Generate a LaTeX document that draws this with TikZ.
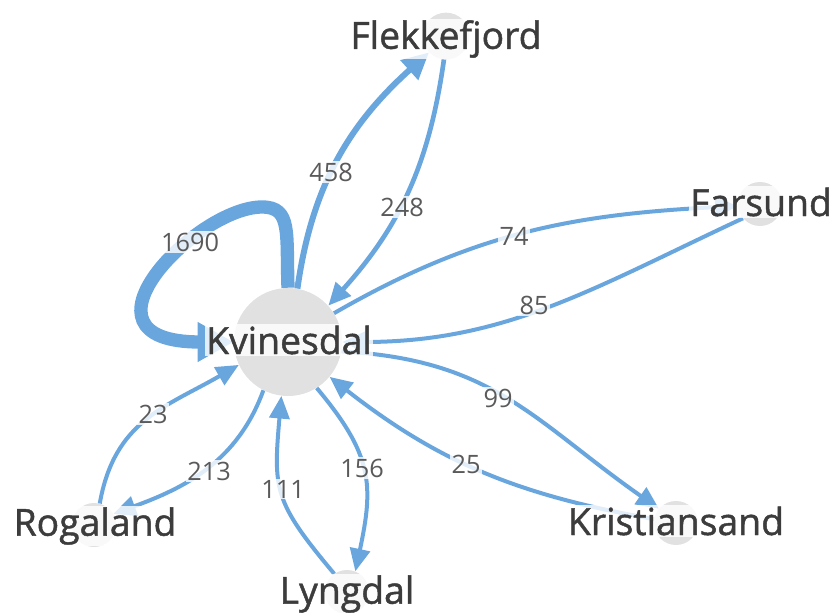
\documentclass[tikz,border=0pt]{standalone}
\usepackage{fontspec}
\setmainfont{Open Sans}
\newfontfamily\labfont{Open Sans}[FakeBold=1.2]
\usetikzlibrary{arrows.meta}
\definecolor{edgeblue}{RGB}{106,166,222}
\definecolor{nodegray}{RGB}{225,225,225}
\definecolor{labgray}{RGB}{60,60,60}
\definecolor{numgray}{RGB}{90,90,90}
\begin{document}
\begin{tikzpicture}[x=0.75pt,y=0.75pt,
  circ/.style={circle, fill=nodegray, draw=none, inner sep=0pt},
  plab/.style={font=\labfont\fontsize{28}{30}\selectfont, text=labgray, fill=white, fill opacity=0.8, text opacity=1, inner sep=1pt},
  elab/.style={font=\fontsize{19}{21}\selectfont, text=numgray, fill=white, fill opacity=0.8, text opacity=1, inner sep=1pt},
  flow/.style={draw=edgeblue, line width=3pt, -{Triangle[length=17pt,width=15pt]}},
  ]
\useasboundingbox (0,0) rectangle (831,612);
% place circles
\node[circ, minimum size=81pt] (K) at (288,270) {};
\node[circ, minimum size=35pt] (F) at (446,576) {};
\node[circ, minimum size=33pt] (Fa) at (760,408) {};
\node[circ, minimum size=33pt] (R) at (94,87) {};
\node[circ, minimum size=33pt] (L) at (347,20) {};
\node[circ, minimum size=33pt] (Kr) at (676,89) {};
% connectors
\coordinate (loopTop) at (262,405);
\draw[flow, line width=10pt, -{Triangle[length=27pt,width=28pt]}]
  (K.90) .. controls +(92:55) and +(0:30) .. (loopTop)
         .. controls +(180:65) and +(180:170) .. (K.180);
\draw[flow, line width=4.5pt, -{Triangle[length=20pt,width=19pt]}] (K.80) to[out=82, in=222] (F.224);
\draw[flow, line width=3.5pt] (F.265) to[out=262, in=48] (K.42);
\draw[flow] (K.32) to[out=30, in=183] (Fa.185);
\draw[flow] (Fa.220) to[out=205, in=0] (K.0);
\draw[flow] (K.-10) to[out=-3, in=145, looseness=1.1] (Kr.140);
\draw[flow] (Kr.170) to[out=170, in=-38] (K.-40);
\draw[flow] (R.75) to[out=80, in=210, looseness=1.1] (K.205);
\draw[flow] (K.243) to[out=250, in=20] (R.30);
\draw[flow] (L.125) to[out=130, in=-95, looseness=1.3] (K.-97);
\draw[flow] (K.-58) to[out=-50, in=78, looseness=1.2] (L.68);
% connector labels
\node[elab] (n458) at (331,440) {458};
\node[elab] (n248) at (402,405) {248};
\node[elab] (n1690) at (190,370) {1690};
\node[elab] (n74) at (514,376) {74};
\node[elab] (n85) at (534,307) {85};
\node[elab] (n99) at (498,214) {99};
\node[elab] (n25) at (466,148) {25};
\node[elab] (n23) at (153,198) {23};
\node[elab] (n213) at (209,141) {213};
\node[elab] (n111) at (283,123) {111};
\node[elab] (n156) at (362,144) {156};
% place labels
\node[plab] (tK) at (289,272) {Kvinesdal};
\node[plab] (tF) at (446,573) {Flekkefjord};
\node[plab] (tFa) at (761,410) {Farsund};
\node[plab] (tR) at (95,86) {Rogaland};
\node[plab] (tL) at (347,18) {Lyngdal};
\node[plab] (tKr) at (676,91) {Kristiansand};
\end{tikzpicture}
\end{document}
